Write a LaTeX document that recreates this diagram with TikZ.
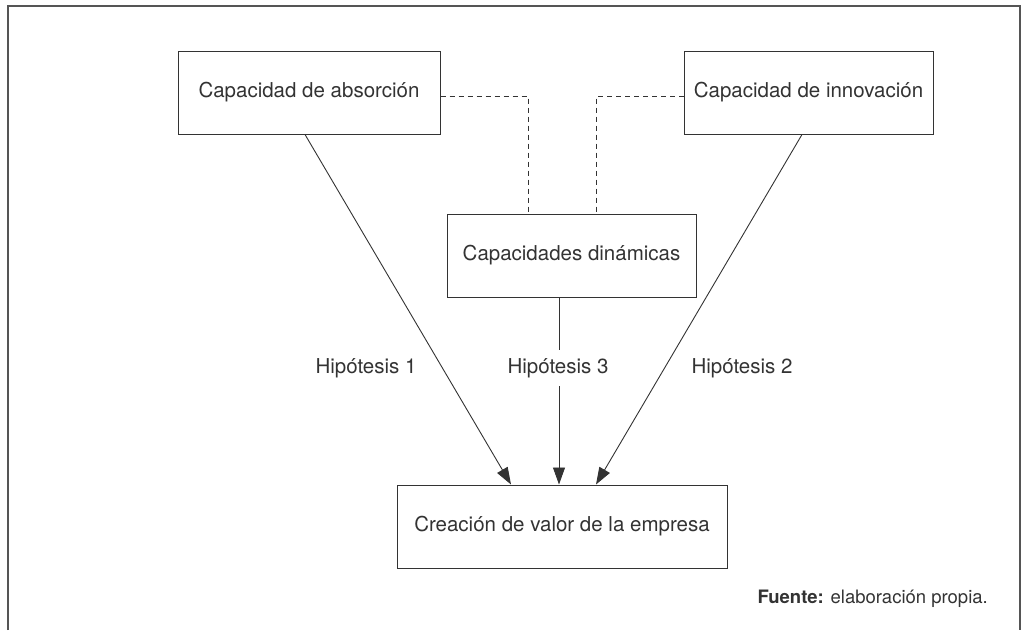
\documentclass[tikz,border=0pt]{standalone}
\usepackage{fontspec}
\setmainfont{TeX Gyre Heros}
\usetikzlibrary{arrows.meta}
\definecolor{ink}{HTML}{333333}
\definecolor{frame}{HTML}{555555}
\begin{document}
\begin{tikzpicture}[x=1pt,y=-1pt,
  boxnode/.style={draw=ink,line width=1pt,minimum height=83pt,inner sep=0pt,text=ink,font=\fontsize{20.5}{24}\selectfont},
  lbl/.style={text=ink,font=\fontsize{20.5}{24}\selectfont,inner sep=0pt},
  arr/.style={draw=ink,line width=0.9pt,-{Triangle[length=17pt,width=12pt]}},
  dsh/.style={draw=ink,line width=0.9pt,dash pattern=on 5pt off 4pt}]
\useasboundingbox (0,0) rectangle (1028,630);
\draw[frame,line width=1.2pt] (8,630) -- (8,6) -- (1020,6) -- (1020,630);
\node[boxnode,minimum width=262pt] (abs) at (309,92.5) {Capacidad de absorción};
\node[boxnode,minimum width=249pt] (inn) at (808.5,92.5) {Capacidad de innovación};
\node[boxnode,minimum width=249pt] (din) at (571.5,255.5) {Capacidades dinámicas};
\node[boxnode,minimum width=330pt] (cre) at (562,526.5) {Creación de valor de la empresa};
\coordinate (d1) at (528,96);
\coordinate (d2) at (596,96);
\draw[dsh] (abs.east |- d1) -- (d1) -- (d1 |- din.north);
\draw[dsh] (inn.west |- d2) -- (d2) -- (d2 |- din.north);
\coordinate (a1s) at (305,134);
\coordinate (a1e) at (511,485);
\coordinate (a2s) at (802,134);
\coordinate (a2e) at (596,485);
\draw[arr] (a1s |- abs.south) -- (a1e |- cre.north);
\draw[arr] (a2s |- inn.south) -- (a2e |- cre.north);
\draw[arr] (559,0 |- din.south) -- (559,0 |- cre.north);
\node[lbl] (h1) at (366,368) {Hipótesis 1};
\node[lbl,fill=white,inner xsep=2pt,inner ysep=8pt] (h3) at (558,368) {Hipótesis 3};
\node[lbl] (h2) at (742,368) {Hipótesis 2};
\node[text=ink,inner sep=0pt,anchor=east,font=\fontsize{18.5}{22}\selectfont] (src) at (988,599) {\textbf{Fuente:} elaboración propia.};
\end{tikzpicture}
\end{document}
